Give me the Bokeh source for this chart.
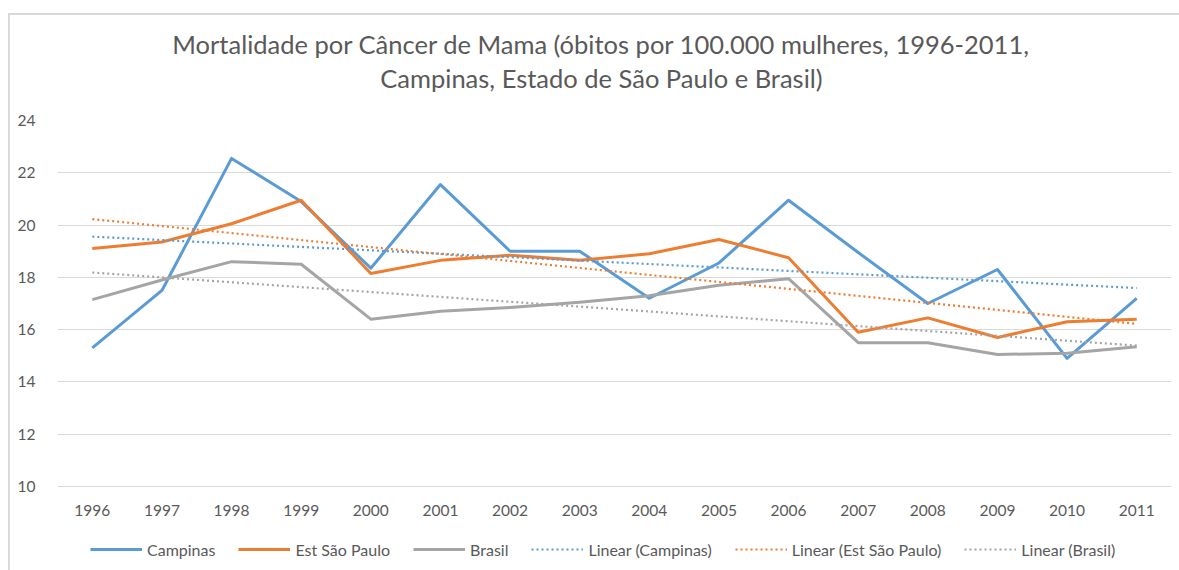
import numpy as np
from bokeh.plotting import figure
from bokeh.models import Title, Legend, LegendItem, FixedTicker, LinearAxis
from bokeh.embed import file_html
from bokeh.resources import INLINE

years = list(range(1996, 2012))
campinas = [15.3, 17.5, 22.55, 20.9, 18.35, 21.55, 19.0, 19.0, 17.2, 18.55, 20.95, 18.95, 17.0, 18.3, 14.9, 17.2]
est_sp = [19.1, 19.35, 20.05, 20.95, 18.15, 18.65, 18.85, 18.65, 18.9, 19.45, 18.75, 15.9, 16.45, 15.7, 16.3, 16.4]
brasil = [17.15, 17.9, 18.6, 18.5, 16.4, 16.7, 16.85, 17.05, 17.3, 17.7, 17.95, 15.5, 15.5, 15.05, 15.1, 15.35]
series_names = ["Campinas", "Est São Paulo", "Brasil"]
colors = ["#5B9BD5", "#ED7D31", "#A5A5A5"]
y_ticks = [10, 12, 14, 16, 18, 20, 22, 24]
title1 = "Mortalidade por Câncer de Mama (óbitos por 100.000 mulheres, 1996-2011,"
title2 = "Campinas, Estado de São Paulo e Brasil)"

FONT = "Lato"
TXT = "#595959"
NBSP = "\u00a0"

W, H = 1179, 570
TOP, BOTTOM, LEFT, RIGHT = 120, 8, 57, 8
# value axis spans 10..24 over 366 px; frame extends below 10 to hold labels and legend
frame_h = H - TOP - BOTTOM
y_lo = 24 - 14 * frame_h / 366.0

p = figure(width=W, height=H, output_backend="svg", toolbar_location=None,
           x_range=(1995.5, 2011.5), y_range=(y_lo, 24), x_axis_location=None,
           min_border_left=LEFT, min_border_right=RIGHT, min_border_top=TOP, min_border_bottom=BOTTOM)
p.outline_line_color = None
p.background_fill_color = "white"
p.border_fill_color = None
p.styles = {"background": "linear-gradient(#d9d9d9,#d9d9d9) 8px 13px / 100% 2px no-repeat, "
                          "linear-gradient(#d9d9d9,#d9d9d9) 8px 13px / 2px 100% no-repeat"}

xax = LinearAxis(fixed_location=10, ticker=FixedTicker(ticks=years))
p.add_layout(xax, "below")
for ax in (xax, p.yaxis[0]):
    ax.axis_line_color = None
    ax.major_tick_line_color = None
    ax.minor_tick_line_color = None
    ax.major_label_text_color = TXT
    ax.major_label_text_font = FONT
    ax.major_label_text_font_size = "15.5px"
p.yaxis[0].ticker = FixedTicker(ticks=y_ticks)
xax.major_label_standoff = 12
p.yaxis[0].major_label_standoff = 16
for g in p.grid:
    if g.dimension == 0:
        g.grid_line_color = None
        g.visible = False
p.ygrid.grid_line_color = "#d9d9d9"
p.ygrid.grid_line_width = 1
p.ygrid.ticker = FixedTicker(ticks=y_ticks)

x = np.array(years, dtype=float)
main_r = []
trend_r = []
for vals, c in zip([campinas, est_sp, brasil], colors):
    r = p.line(years, vals, line_color=c, line_width=3, line_join="round")
    main_r.append(r)
for vals, c in zip([campinas, est_sp, brasil], colors):
    k, b = np.polyfit(x, np.array(vals), 1)
    r = p.line([years[0], years[-1]], [k * years[0] + b, k * years[-1] + b],
               line_color=c, line_width=2.2, line_dash="2 3")
    trend_r.append(r)

labels = list(series_names) + ["Linear (%s)" % n for n in series_names]
items = [LegendItem(label=l, renderers=[r]) for l, r in zip(labels, main_r + trend_r)]
leg = Legend(items=items, orientation="horizontal", location=(33, 3),
             glyph_width=52, glyph_height=20, label_height=20, label_standoff=5, spacing=23,
             label_text_font=FONT, label_text_font_size="16px", label_text_color=TXT,
             padding=0, margin=0, border_line_color=None, background_fill_alpha=0)
p.add_layout(leg, "center")

# title: spacer nearest the plot, then line 2, then line 1
p.add_layout(Title(text=NBSP, text_font_size="8px", standoff=17), "above")
p.add_layout(Title(text=title2 + NBSP * 4, align="center", text_font=FONT, text_font_size="25.5px",
                   text_color=TXT, text_font_style="normal", standoff=0), "above")
p.add_layout(Title(text=title1 + NBSP * 4, align="center", text_font=FONT, text_font_size="25.5px",
                   text_color=TXT, text_font_style="normal", standoff=3), "above")

open("out.html", "w").write(file_html(p, INLINE))
